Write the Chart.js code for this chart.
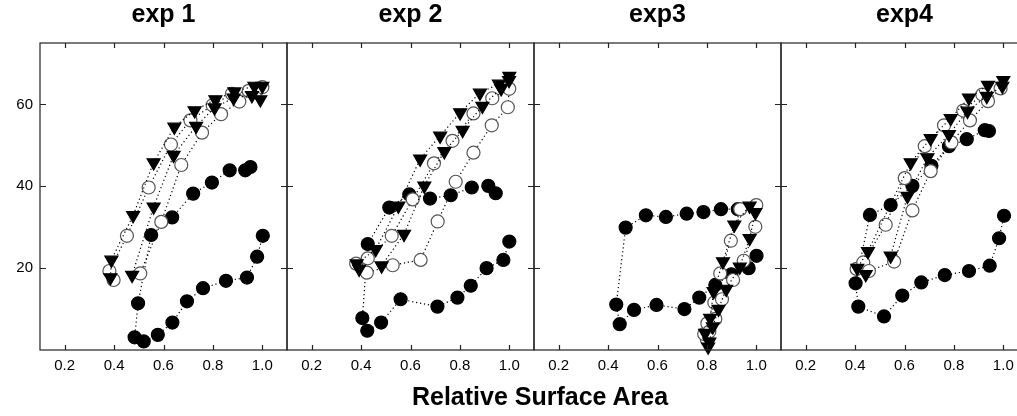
<!DOCTYPE html>
<html>
<head>
<meta charset="utf-8">
<script src="https://cdn.jsdelivr.net/npm/chart.js@4.4.0/dist/chart.umd.min.js"></script>
<style>
  html, body { margin: 0; padding: 0; background: #fff; overflow: hidden; }
  #wrap { position: relative; width: 1017px; height: 416px; overflow: hidden; }
  .panel { position: absolute; top: 0; height: 416px; }
  #xTitle {
    position: absolute; left: 0; width: 1080px; top: 382px; text-align: center;
    font-family: "Liberation Sans", Arial, sans-serif; font-weight: bold; font-size: 25px; color: #000;
  }
</style>
</head>
<body>
<div id="wrap">
  <div class="panel" id="p0"><canvas id="c0"></canvas></div>
  <div class="panel" id="p1"><canvas id="c1"></canvas></div>
  <div class="panel" id="p2"><canvas id="c2"></canvas></div>
  <div class="panel" id="p3"><canvas id="c3"></canvas></div>
  <div id="xTitle">Relative Surface Area</div>
</div>
<script>
// axis ticks and panel names
const xTicks = [0.2, 0.4, 0.6, 0.8, 1.0];
const yTicks = [20, 40, 60];
const panelTitles = ['exp 1', 'exp 2', 'exp3', 'exp4'];

// exp 1
const exp1Filled = [[0.952,44.7],[0.931,43.9],[0.868,43.9],[0.796,40.9],[0.720,38.2],[0.635,32.4],[0.550,28.1],[0.497,11.4],[0.483,3.1],[0.520,2.1],[0.577,3.7],[0.636,6.7],[0.695,11.9],[0.760,15.1],[0.853,16.9],[0.938,17.7],[0.979,22.8],[1.002,27.9]];
const exp1Open = [[0.398,17.1],[0.381,19.3],[0.452,27.9],[0.540,39.7],[0.630,50.2],[0.709,56.1],[0.799,59.8],[0.877,62.6],[0.945,63.3],[1.0,64.2],[0.907,60.7],[0.833,57.6],[0.756,53.1],[0.672,45.2],[0.591,31.3],[0.506,18.7]];
const exp1Tri = [[0.385,17.7],[0.389,22.0],[0.477,32.9],[0.560,45.8],[0.644,54.5],[0.726,58.5],[0.810,61.2],[0.887,63.1],[0.968,64.5],[1.0,64.5],[0.992,61.2],[0.958,62.2],[0.884,61.6],[0.807,59.2],[0.732,54.7],[0.641,47.6],[0.560,35.0],[0.473,18.3]];

// exp 2
const exp2Filled = [[0.945,38.3],[0.915,40.1],[0.848,39.7],[0.763,37.8],[0.679,37.0],[0.595,38.0],[0.514,34.8],[0.427,25.9],[0.405,7.8],[0.425,4.7],[0.481,6.7],[0.560,12.4],[0.709,10.6],[0.790,12.8],[0.844,15.7],[0.908,20.0],[0.976,22.0],[1.0,26.5]];
const exp2Open = [[0.380,21.1],[0.427,22.4],[0.524,27.9],[0.609,36.8],[0.695,45.6],[0.770,51.1],[0.855,57.8],[0.931,61.5],[1.0,63.8],[0.994,59.3],[0.929,54.9],[0.855,48.2],[0.783,41.1],[0.710,31.4],[0.641,22.0],[0.528,20.7],[0.423,18.9]];
const exp2Tri = [[0.392,19.8],[0.382,21.1],[0.459,24.6],[0.551,35.2],[0.639,46.7],[0.720,52.3],[0.801,58.0],[0.881,62.8],[0.958,65.0],[1.0,66.9],[0.999,65.9],[0.967,63.9],[0.891,59.6],[0.811,53.7],[0.737,48.5],[0.656,40.1],[0.574,28.3],[0.483,20.6]];

// exp3
const exp3Filled = [[0.925,34.4],[0.857,34.4],[0.786,33.7],[0.718,33.3],[0.634,32.5],[0.553,32.9],[0.471,29.9],[0.433,11.1],[0.447,6.3],[0.505,9.8],[0.596,11.0],[0.709,10.0],[0.769,12.8],[0.834,15.9],[0.899,18.5],[0.969,20.0],[1.001,23.0]];
const exp3Open = [[0.800,2.5],[0.789,3.9],[0.802,6.5],[0.830,11.6],[0.854,18.7],[0.897,26.7],[0.935,34.4],[1.0,35.4],[0.996,30.1],[0.949,21.8],[0.906,17.1],[0.861,12.4],[0.834,7.6],[0.810,4.5]];
const exp3Tri = [[0.805,0.8],[0.793,4.1],[0.813,7.8],[0.827,14.3],[0.865,21.6],[0.911,30.6],[0.973,35.2],[0.996,33.6],[0.973,27.3],[0.933,20.3],[0.878,14.9],[0.847,10.0],[0.824,5.7],[0.810,2.0]];

// exp4
const exp4Filled = [[0.942,53.5],[0.925,53.7],[0.852,51.5],[0.780,49.8],[0.709,45.0],[0.632,40.1],[0.544,35.4],[0.460,33.0],[0.402,16.3],[0.413,10.6],[0.517,8.2],[0.591,13.3],[0.668,16.5],[0.763,18.3],[0.861,19.3],[0.945,20.6],[0.983,27.3],[1.003,32.8]];
const exp4Open = [[0.406,19.8],[0.433,21.4],[0.524,30.6],[0.601,42.0],[0.682,49.8],[0.760,54.9],[0.838,58.5],[0.915,62.4],[0.989,63.9],[0.938,60.8],[0.865,56.1],[0.790,50.7],[0.706,43.7],[0.632,34.1],[0.558,21.6],[0.456,19.3]];
const exp4Tri = [[0.443,18.5],[0.409,20.0],[0.452,24.1],[0.625,45.8],[0.706,51.7],[0.787,56.6],[0.861,61.6],[0.938,64.7],[1.0,65.9],[0.996,64.5],[0.933,62.0],[0.855,58.4],[0.780,52.7],[0.693,47.0],[0.612,37.6],[0.544,23.0]];

const panelData = [
    [exp1Filled, exp1Open, exp1Tri],
    [exp2Filled, exp2Open, exp2Tri],
    [exp3Filled, exp3Open, exp3Tri],
    [exp4Filled, exp4Open, exp4Tri]
];

// layout of the four frames (page pixels)
const panelLeft = [40, 287, 534, 781];
const panelWidth = 247;
const plotBottom = 350;
const tickFont = { family: '"Liberation Sans Narrow", "Liberation Sans", Arial, sans-serif', size: 15 };

// border box plus inward tick marks on all four sides
const framePlugin = {
    id: 'frame',
    afterDatasetsDraw(chart) {
        const ctx = chart.ctx;
        const a = chart.chartArea;
        const xs = chart.scales.x;
        const ys = chart.scales.y;
        ctx.save();
        ctx.strokeStyle = '#222';
        ctx.lineWidth = 1.2;
        ctx.strokeRect(a.left, a.top, a.right - a.left, a.bottom - a.top);
        ctx.beginPath();
        xTicks.forEach(v => {
            const px = Math.round(xs.getPixelForValue(v)) + 0.5;
            ctx.moveTo(px, a.bottom); ctx.lineTo(px, a.bottom - 5);
            ctx.moveTo(px, a.top); ctx.lineTo(px, a.top + 5);
        });
        yTicks.forEach(v => {
            const py = Math.round(ys.getPixelForValue(v)) + 0.5;
            ctx.moveTo(a.left, py); ctx.lineTo(a.left + 6, py);
            ctx.moveTo(a.right, py); ctx.lineTo(a.right - 6, py);
        });
        ctx.stroke();
        ctx.restore();
    }
};

function toPoints(list) {
    return list.map(p => ({ x: p[0], y: p[1] }));
}

function makeSeries(list, kind) {
    const base = {
        data: toPoints(list),
        showLine: true,
        borderColor: '#000',
        borderWidth: 1.2,
        borderDash: [1.2, 2.8],
        clip: false,
        pointBorderWidth: 1.2
    };
    if (kind === 'filled') {
        return Object.assign(base, {
            pointStyle: 'circle', pointRadius: 6.5,
            pointBackgroundColor: '#000', pointBorderColor: '#000', order: 3
        });
    }
    if (kind === 'open') {
        return Object.assign(base, {
            pointStyle: 'circle', pointRadius: 6.5,
            pointBackgroundColor: '#fff', pointBorderColor: '#555', order: 2
        });
    }
    return Object.assign(base, {
        pointStyle: 'triangle', pointRadius: 7.5, pointRotation: 180,
        pointBackgroundColor: '#000', pointBorderColor: '#000', order: 1
    });
}

function createPanel(i) {
    const leftPad = i === 0 ? 40 : 6;
    const holder = document.getElementById('p' + i);
    holder.style.left = (panelLeft[i] - leftPad) + 'px';
    holder.style.width = (panelWidth + leftPad + 4) + 'px';

    const sets = panelData[i];
    new Chart(document.getElementById('c' + i), {
        type: 'scatter',
        data: {
            datasets: [
                makeSeries(sets[0], 'filled'),
                makeSeries(sets[1], 'open'),
                makeSeries(sets[2], 'tri')
            ]
        },
        options: {
            responsive: true,
            maintainAspectRatio: false,
            animation: false,
            layout: { autoPadding: false, padding: { left: 0, right: 4, top: 0, bottom: 0 } },
            plugins: {
                legend: { display: false },
                tooltip: { enabled: false },
                title: {
                    display: true,
                    text: panelTitles[i],
                    fullSize: false,
                    color: '#000',
                    font: { family: '"Liberation Sans", Arial, sans-serif', size: 25, weight: 'bold' },
                    padding: { top: 0, bottom: 13 }
                }
            },
            scales: {
                x: {
                    type: 'linear',
                    min: 0.1,
                    max: 1.1,
                    afterBuildTicks: s => { s.ticks = xTicks.map(v => ({ value: v })); },
                    afterFit: s => { s.height = 416 - plotBottom; },
                    grid: { display: false, drawTicks: false },
                    border: { display: false },
                    ticks: {
                        color: '#000',
                        font: tickFont,
                        padding: 7,
                        maxRotation: 0,
                        callback: v => Number(v).toFixed(1)
                    }
                },
                y: {
                    type: 'linear',
                    min: 0,
                    max: 75,
                    afterBuildTicks: s => { s.ticks = yTicks.map(v => ({ value: v })); },
                    afterFit: s => { s.width = leftPad; },
                    grid: { display: false, drawTicks: false },
                    border: { display: false },
                    ticks: {
                        display: i === 0,
                        color: '#000',
                        font: tickFont,
                        padding: 7
                    }
                }
            }
        },
        plugins: [framePlugin]
    });
}

document.addEventListener('DOMContentLoaded', function() {
    for (let i = 0; i < 4; i++) {
        createPanel(i);
    }
});
</script>
</body>
</html>
